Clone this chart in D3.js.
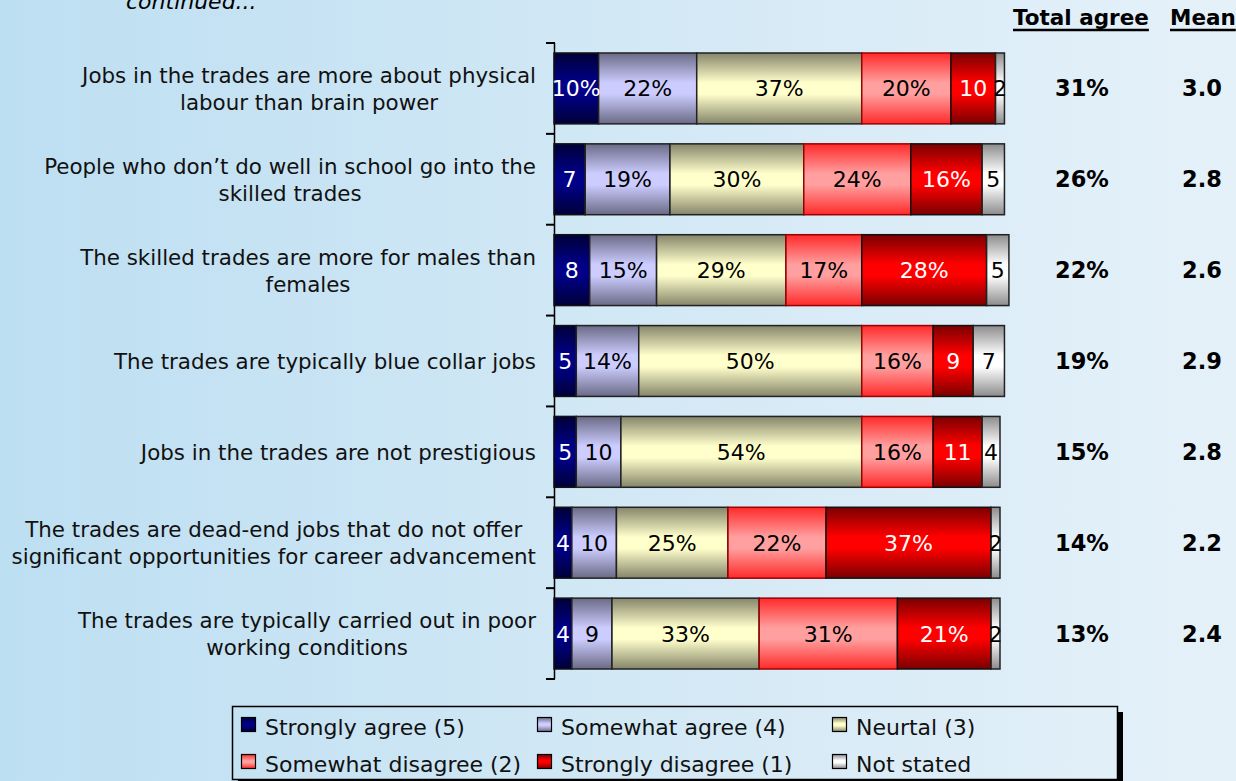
<!DOCTYPE html>
<html>
<head>
    <meta charset="UTF-8" />
    <title>Perceptions of the trades</title>
    <script src="https://d3js.org/d3.v7.min.js"></script>
    <style>
	body { margin: 0; padding: 0; overflow: hidden; }
	svg { display: block; font-family: "DejaVu Sans", Verdana, sans-serif; }
 	</style>
</head>

<body>
	<div id="chart"></div>

<script type="text/javascript">

	// statements (one array of lines per bar)
	var statements = [
		["Jobs in the trades are more about physical", "labour than brain power"],
		["People who don\u2019t do well in school go into the", "skilled trades"],
		["The skilled trades are more for males than", "females"],
		["The trades are typically blue collar jobs"],
		["Jobs in the trades are not prestigious"],
		["The trades are dead-end jobs that do not offer", "significant opportunities for career advancement"],
		["The trades are typically carried out in poor", "working conditions"]
	]

	var seriesNames = ["Strongly agree (5)", "Somewhat agree (4)", "Neurtal (3)",
		"Somewhat disagree (2)", "Strongly disagree (1)", "Not stated"]

	var stronglyAgree    = [10, 7, 8, 5, 5, 4, 4]
	var somewhatAgree    = [22, 19, 15, 14, 10, 10, 9]
	var neutral          = [37, 30, 29, 50, 54, 25, 33]
	var somewhatDisagree = [20, 24, 17, 16, 16, 22, 31]
	var stronglyDisagree = [10, 16, 28, 9, 11, 37, 21]
	var notStated        = [2, 5, 5, 7, 4, 2, 2]

	var totalAgree = [31, 26, 22, 19, 15, 14, 13]
	var meanScore  = [3.0, 2.8, 2.6, 2.9, 2.8, 2.2, 2.4]

	// cells whose label keeps the % sign although the value is small
	var forcedPercent = [[0, 0]]

	var series = [stronglyAgree, somewhatAgree, neutral, somewhatDisagree, stronglyDisagree, notStated]

	// gradient colours: [edge, centre], label colour, border
	var styles = [
		{edge: "#000038", mid: "#000088", text: "white", stroke: "#111"},
		{edge: "#6a6a86", mid: "#ccccff", text: "black", stroke: "#222"},
		{edge: "#85856a", mid: "#ffffcc", text: "black", stroke: "#222"},
		{edge: "#ff2a2a", mid: "#ff9f9f", text: "black", stroke: "#900"},
		{edge: "#7a0000", mid: "#ff0000", text: "white", stroke: "#111"},
		{edge: "#8c8c8c", mid: "#ffffff", text: "black", stroke: "#222"}
	]

	var W = 1236, H = 781

	var svg = d3.select("div#chart")
		.append("svg")
			.attr("width", W)
			.attr("height", H)

	var defs = svg.append("defs")

	// page background
	var bg = defs.append("linearGradient").attr("id", "bg")
		.attr("x1", "0").attr("x2", "1").attr("y1", "0").attr("y2", "0")
	bg.append("stop").attr("offset", "0").attr("stop-color", "#bddff2")
	bg.append("stop").attr("offset", "0.5").attr("stop-color", "#d2e8f5")
	bg.append("stop").attr("offset", "1").attr("stop-color", "#e5f1f9")
	svg.append("rect").attr("width", W).attr("height", H).attr("fill", "url(#bg)")

	styles.forEach(function(s, i) {
		var g = defs.append("linearGradient").attr("id", "g" + i)
			.attr("x1", "0").attr("x2", "0").attr("y1", "0").attr("y2", "1")
		g.append("stop").attr("offset", "0").attr("stop-color", s.edge)
		g.append("stop").attr("offset", "0.42").attr("stop-color", s.mid)
		g.append("stop").attr("offset", "0.58").attr("stop-color", s.mid)
		g.append("stop").attr("offset", "1").attr("stop-color", s.edge)
	})

	// scales
	var x = d3.scaleLinear()
		.domain([0, 100])
		.range([554, 1000])

	var y = d3.scaleBand()
		.domain(d3.range(statements.length))
		.range([43, 679])
		.paddingInner(0.22)
		.paddingOuter(0.11)

	// category axis (ticks between bars)
	var axis = svg.append("g")
	axis.append("line")
		.attr("x1", 554.5).attr("x2", 554.5)
		.attr("y1", 43).attr("y2", 679)
		.attr("stroke", "black").attr("stroke-width", 1.5)
	axis.selectAll("line.tick")
		.data(d3.range(statements.length + 1))
		.enter().append("line")
			.attr("class", "tick")
			.attr("x1", 546).attr("x2", 555)
			.attr("y1", function(i) { return 43 + i * y.step() })
			.attr("y2", function(i) { return 43 + i * y.step() })
			.attr("stroke", "black").attr("stroke-width", 2)

	// stacked cells
	var cells = []
	statements.forEach(function(s, r) {
		var cum = 0
		series.forEach(function(arr, k) {
			cells.push({row: r, k: k, v: arr[r], x0: cum})
			cum += arr[r]
		})
	})

	var bars = svg.append("g")
	bars.selectAll("rect")
		.data(cells)
		.enter().append("rect")
			.attr("x", function(d) { return x(d.x0) })
			.attr("y", function(d) { return y(d.row) })
			.attr("width", function(d) { return x(d.v) - x(0) })
			.attr("height", y.bandwidth())
			.attr("fill", function(d) { return "url(#g" + d.k + ")" })
			.attr("stroke", function(d) { return styles[d.k].stroke })
			.attr("stroke-width", 1.5)

	var fmt = function(d) {
		var forced = forcedPercent.some(function(p) { return p[0] == d.row && p[1] == d.k })
		return (d.v >= 14 || forced) ? d.v + "%" : d.v
	}

	bars.selectAll("text")
		.data(cells)
		.enter().append("text")
			.attr("x", function(d) { return x(d.x0 + d.v / 2) })
			.attr("y", function(d) { return y(d.row) + y.bandwidth() / 2 + 8 })
			.attr("text-anchor", "middle")
			.attr("font-size", "22px")
			.attr("fill", function(d) { return styles[d.k].text })
			.text(fmt)

	// statement labels: block right aligned, lines centred within it
	var labels = svg.append("g").attr("font-size", "21.4px").attr("fill", "#111")
	statements.forEach(function(lines, r) {
		var g = labels.append("g")
		var cy = y(r) + y.bandwidth() / 2
		var t = g.selectAll("text")
			.data(lines)
			.enter().append("text")
				.attr("text-anchor", "middle")
				.attr("y", function(d, i) { return cy + (i - (lines.length - 1) / 2) * 27 + 8 })
				.text(function(d) { return d })
		var maxW = d3.max(t.nodes(), function(n) { return n.getComputedTextLength() })
		t.attr("x", 536 - maxW / 2)
	})

	// right-hand columns
	var cols = [
		{title: "Total agree", x: 1082, start: 1013, data: totalAgree, f: function(v) { return v + "%" }},
		{title: "Mean", x: 1202, start: 1170, data: meanScore, f: function(v) { return v.toFixed(1) }}
	]
	cols.forEach(function(c) {
		var h = svg.append("text")
			.attr("x", c.start).attr("y", 25)
			.attr("font-size", "21.5px").attr("font-weight", "bold")
			.text(c.title)
		var w = h.node().getComputedTextLength()
		svg.append("line")
			.attr("x1", c.start).attr("x2", c.start + w)
			.attr("y1", 30).attr("y2", 30)
			.attr("stroke", "black").attr("stroke-width", 2.5)
		svg.append("g").selectAll("text")
			.data(c.data)
			.enter().append("text")
				.attr("x", c.x)
				.attr("y", function(d, i) { return y(i) + y.bandwidth() / 2 + 8 })
				.attr("text-anchor", "middle")
				.attr("font-size", "22.5px").attr("font-weight", "bold")
				.text(c.f)
	})

	svg.append("text")
		.attr("x", 126).attr("y", 9)
		.attr("font-size", "22px").attr("font-style", "italic")
		.text("continued...")

	// legend
	var legend = svg.append("g")
	legend.append("rect")
		.attr("x", 1117).attr("y", 712).attr("width", 6).attr("height", 75)
		.attr("fill", "black")
	legend.append("rect")
		.attr("x", 238).attr("y", 779).attr("width", 885).attr("height", 6)
		.attr("fill", "black")
	legend.append("rect")
		.attr("x", 232.5).attr("y", 706.5).attr("width", 885).attr("height", 73)
		.attr("fill", "none").attr("stroke", "black").attr("stroke-width", 1.5)

	var legX = [241, 537, 832], legY = [717, 754]
	var items = legend.selectAll("g.item")
		.data(seriesNames)
		.enter().append("g")
			.attr("class", "item")
			.attr("transform", function(d, i) {
				return "translate(" + legX[i % 3] + "," + legY[Math.floor(i / 3)] + ")"
			})
	items.append("rect")
		.attr("x", 0.5).attr("y", 0.5).attr("width", 14).attr("height", 14)
		.attr("fill", function(d, i) { return "url(#g" + i + ")" })
		.attr("stroke", "black").attr("stroke-width", 1.2)
	items.append("text")
		.attr("x", 24).attr("y", 18)
		.attr("font-size", "22px").attr("fill", "#111")
		.text(function(d) { return d })

</script>
</body>
</html>
